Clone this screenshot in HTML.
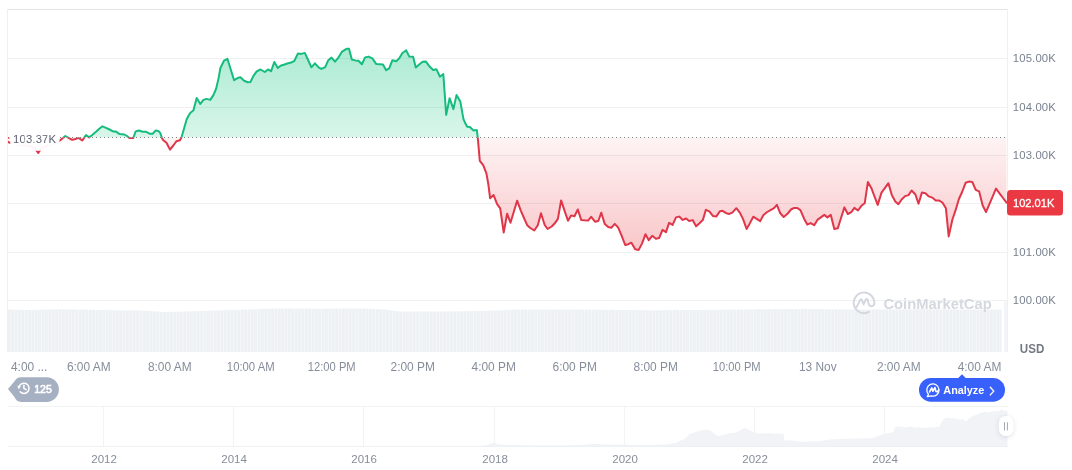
<!DOCTYPE html>
<html lang="en">
<head>
<meta charset="utf-8">
<title>Price chart</title>
<style>
html,body{margin:0;padding:0;background:#fff;}
body{width:1072px;height:470px;overflow:hidden;font-family:"Liberation Sans",sans-serif;}
svg{display:block;font-family:"Liberation Sans",sans-serif;}
</style>
</head>
<body>
<svg width="1072" height="470" viewBox="0 0 1072 470">
<defs>
<linearGradient id="gg" gradientUnits="userSpaceOnUse" x1="0" y1="9" x2="0" y2="137.5"><stop offset="0" stop-color="#16c784" stop-opacity="0.44"/><stop offset="1" stop-color="#16c784" stop-opacity="0.165"/></linearGradient>
<linearGradient id="rg" gradientUnits="userSpaceOnUse" x1="0" y1="137.5" x2="0" y2="352"><stop offset="0" stop-color="#ea3943" stop-opacity="0.06"/><stop offset="1" stop-color="#ea3943" stop-opacity="0.49"/></linearGradient>
<clipPath id="ca"><rect x="8" y="0" width="999" height="137.5"/></clipPath>
<clipPath id="cb"><rect x="8" y="137.5" width="999" height="214.5"/></clipPath>
<filter id="sh" x="-50%" y="-50%" width="200%" height="200%"><feDropShadow dx="0" dy="1" stdDeviation="2" flood-color="#58667e" flood-opacity="0.22"/></filter>
<pattern id="vp" patternUnits="userSpaceOnUse" x="8" y="0" width="3.375" height="60"><rect width="3.375" height="60" fill="#f5f7f9"/><rect width="2.5" height="60" fill="#eef1f4"/></pattern>
</defs>
<rect width="1072" height="470" fill="#fff"/>
<g id="grid">
<rect x="8" y="58" width="999" height="1" fill="#eef0f2"/>
<rect x="8" y="107" width="999" height="1" fill="#eef0f2"/>
<rect x="8" y="155" width="999" height="1" fill="#eef0f2"/>
<rect x="8" y="203" width="999" height="1" fill="#eef0f2"/>
<rect x="8" y="252" width="999" height="1" fill="#eef0f2"/>
<rect x="8" y="300" width="999" height="1" fill="#eef0f2"/>
</g>
<g id="volume">
<path d="M8,352 L8,309.5 L30,310 L60,309.3 L100,310 L140,310.5 L165,312 L200,311 L230,310 L260,309 L280,308.5 L320,308.7 L360,308.5 L385,309.5 L400,311.5 L440,311.5 L480,311 L510,310 L520,309.5 L600,309.7 L650,310.3 L700,310 L760,309.3 L800,309 L860,309.5 L920,309.2 L960,309.5 L1001.5,309.5 L1001.5,352 Z" fill="url(#vp)"/>
<rect x="1004" y="301.5" width="3" height="50.5" fill="#f3f5f8"/>
</g>
<g id="frame">
<rect x="8" y="9" width="1000" height="1" fill="#e3e5e8"/>
<rect x="7" y="9" width="1" height="343" fill="#eef0f2"/>
<rect x="1007" y="9" width="1" height="343" fill="#eef0f2"/>
</g>
<g id="watermark" opacity="0.97">
<path d="M868.8,312 A10.3,10.3 0 1 1 874.2,304.5 Q872.6,306.9 870.3,306.2 Q869,305.6 868.7,304 L867.6,299.7 Q866.8,297.7 865.7,299.7 L863.6,304.4 L862,300.1 Q861.2,298.3 860.2,300.1 L856.5,307.3" fill="none" stroke="#d3d7de" stroke-width="2" stroke-linecap="round" stroke-linejoin="round"/>
<text x="883.4" y="308.7" font-weight="700" font-size="15.5px" fill="#d3d7de" textLength="108.4" lengthAdjust="spacingAndGlyphs">CoinMarketCap</text>
</g>
<g id="series">
<path d="M7.6,141.6 L9.2,142.6 L11.1,143.0 L14.5,143.5 L17.9,144.0 L21.3,145.0 L24.6,145.2 L28.0,146.0 L31.4,146.8 L34.8,147.6 L38.2,153.0 L41.6,147.6 L44.9,146.8 L48.3,145.5 L51.6,144.0 L55.0,142.5 L58.4,141.5 L60.3,140.2 L65.3,136.0 L68.5,137.8 L72.2,139.9 L75.5,139.0 L78.5,137.9 L82.3,140.5 L86.0,135.1 L89.2,137.4 L92.5,134.8 L96.0,131.8 L99.0,129.0 L102.4,126.3 L106.0,127.8 L109.5,129.5 L113.0,131.4 L115.6,131.4 L119.3,133.9 L124.4,134.5 L127.0,136.0 L129.4,138.1 L133.2,138.1 L135.7,131.4 L138.8,130.5 L142.6,131.7 L145.8,131.7 L149.5,133.7 L152.7,133.7 L155.8,130.4 L158.3,130.9 L160.2,132.9 L162.1,138.3 L163.3,140.2 L166.5,142.7 L170.0,149.6 L173.3,145.5 L176.5,141.2 L180.0,140.2 L181.6,137.1 L183.9,129.0 L186.6,119.5 L188.5,115.7 L190.4,112.7 L193.4,110.5 L196.7,97.9 L200.3,103.9 L203.4,99.9 L206.5,98.9 L210.3,99.9 L213.4,95.1 L216.2,88.5 L218.7,77.6 L220.3,68.3 L224.0,60.7 L227.4,58.8 L234.1,80.2 L238.5,77.7 L240.4,77.3 L244.1,80.8 L247.9,82.3 L250.4,82.1 L253.5,75.8 L256.7,71.4 L260.5,69.5 L264.8,72.0 L268.0,69.5 L271.1,71.2 L274.3,62.0 L277.8,67.9 L280.6,65.8 L284.5,64.5 L288.1,63.2 L291.2,62.6 L294.4,60.8 L298.0,53.4 L301.3,53.9 L304.8,52.9 L308.1,60.0 L311.4,67.3 L314.9,63.3 L318.9,67.7 L321.4,68.9 L325.2,67.1 L328.3,60.2 L331.5,57.6 L335.0,61.7 L338.4,57.6 L342.1,51.6 L346.5,48.8 L349.0,48.8 L351.8,59.5 L355.3,60.4 L358.5,60.8 L361.9,64.2 L365.1,57.4 L368.5,56.6 L372.3,58.3 L376.1,63.9 L379.5,64.2 L383.0,64.5 L386.1,70.2 L389.2,68.3 L392.4,60.2 L396.2,61.2 L399.3,58.3 L402.4,53.0 L406.2,50.4 L409.3,56.6 L413.1,56.7 L415.8,67.5 L419.2,64.5 L422.6,61.7 L425.7,61.4 L430.1,67.1 L433.2,69.9 L436.4,69.2 L439.9,76.7 L443.3,74.0 L446.2,114.9 L449.6,98.2 L453.4,109.1 L456.5,95.1 L460.3,101.4 L463.4,118.9 L465.3,123.3 L467.2,126.7 L469.9,127.0 L473.3,130.4 L476.8,130.1 L477.8,137.8 L479.8,160.8 L483.2,165.2 L486.4,173.4 L488.3,184.0 L490.1,198.2 L493.6,195.1 L497.0,203.9 L500.2,208.3 L503.7,232.5 L507.1,213.7 L510.5,222.7 L513.8,211.7 L517.1,200.7 L520.9,210.8 L524.0,218.0 L527.2,225.2 L530.3,228.0 L534.3,230.5 L537.8,225.2 L541.0,213.3 L544.7,225.0 L547.6,229.0 L551.7,226.5 L554.8,223.3 L557.9,218.9 L561.1,200.4 L564.5,210.6 L568.0,220.8 L571.1,215.4 L574.5,216.2 L577.8,209.5 L581.2,219.9 L584.6,220.3 L588.1,220.6 L591.2,216.8 L595.0,221.7 L598.3,221.0 L601.3,212.7 L604.8,224.1 L608.2,227.0 L611.3,227.7 L614.8,223.9 L618.2,227.7 L621.4,235.2 L625.2,245.0 L628.3,244.2 L631.4,242.7 L635.2,249.3 L638.7,249.9 L642.1,243.4 L645.5,234.2 L648.8,240.2 L652.2,235.8 L655.9,238.7 L659.1,238.1 L662.5,229.9 L666.0,232.1 L669.1,222.9 L672.6,224.9 L676.0,217.4 L679.2,216.6 L682.7,219.9 L686.1,218.5 L689.2,221.0 L692.7,220.1 L696.1,226.2 L699.5,223.2 L702.8,220.1 L705.9,209.8 L709.3,211.3 L713.1,216.1 L716.2,216.6 L720.0,211.2 L722.5,210.8 L726.3,213.2 L729.4,213.9 L732.6,212.4 L736.3,208.2 L739.8,212.6 L743.0,218.9 L746.6,229.0 L749.5,223.9 L753.3,216.7 L756.7,218.9 L760.2,221.1 L763.3,215.2 L767.1,212.0 L770.5,210.1 L774.0,208.2 L776.9,204.8 L780.3,213.3 L783.7,217.0 L787.2,214.1 L791.0,209.5 L794.1,207.9 L797.3,208.0 L800.4,210.1 L804.2,218.9 L807.3,224.6 L810.5,223.1 L814.2,225.2 L817.4,219.9 L820.8,217.4 L824.3,214.9 L827.4,217.4 L830.8,214.9 L834.3,229.0 L837.8,228.3 L841.0,218.0 L844.4,207.4 L847.8,214.0 L851.3,212.1 L854.4,207.9 L858.0,210.5 L861.4,205.8 L864.7,203.3 L867.9,181.9 L871.4,188.2 L874.5,196.5 L877.7,204.9 L881.5,192.6 L885.0,187.9 L888.4,183.2 L891.8,195.1 L895.3,201.4 L898.4,204.2 L901.6,199.5 L905.1,196.1 L908.5,195.1 L911.6,190.5 L915.4,194.5 L918.5,203.7 L921.9,192.6 L925.4,193.2 L928.8,196.4 L932.3,197.6 L935.7,200.4 L939.2,200.6 L942.4,202.5 L945.9,208.3 L948.7,236.4 L952.4,219.5 L955.6,210.2 L958.9,199.0 L962.1,192.0 L965.6,182.8 L969.0,181.6 L972.3,182.0 L975.7,189.8 L979.1,191.3 L982.6,205.2 L986.0,212.1 L989.3,204.3 L992.7,196.4 L996.0,188.6 L999.5,193.3 L1003.0,198.0 L1006.5,202.6 L1006.5,137.5 L7.6,137.5 Z" fill="url(#gg)" clip-path="url(#ca)"/>
<path d="M7.6,141.6 L9.2,142.6 L11.1,143.0 L14.5,143.5 L17.9,144.0 L21.3,145.0 L24.6,145.2 L28.0,146.0 L31.4,146.8 L34.8,147.6 L38.2,153.0 L41.6,147.6 L44.9,146.8 L48.3,145.5 L51.6,144.0 L55.0,142.5 L58.4,141.5 L60.3,140.2 L65.3,136.0 L68.5,137.8 L72.2,139.9 L75.5,139.0 L78.5,137.9 L82.3,140.5 L86.0,135.1 L89.2,137.4 L92.5,134.8 L96.0,131.8 L99.0,129.0 L102.4,126.3 L106.0,127.8 L109.5,129.5 L113.0,131.4 L115.6,131.4 L119.3,133.9 L124.4,134.5 L127.0,136.0 L129.4,138.1 L133.2,138.1 L135.7,131.4 L138.8,130.5 L142.6,131.7 L145.8,131.7 L149.5,133.7 L152.7,133.7 L155.8,130.4 L158.3,130.9 L160.2,132.9 L162.1,138.3 L163.3,140.2 L166.5,142.7 L170.0,149.6 L173.3,145.5 L176.5,141.2 L180.0,140.2 L181.6,137.1 L183.9,129.0 L186.6,119.5 L188.5,115.7 L190.4,112.7 L193.4,110.5 L196.7,97.9 L200.3,103.9 L203.4,99.9 L206.5,98.9 L210.3,99.9 L213.4,95.1 L216.2,88.5 L218.7,77.6 L220.3,68.3 L224.0,60.7 L227.4,58.8 L234.1,80.2 L238.5,77.7 L240.4,77.3 L244.1,80.8 L247.9,82.3 L250.4,82.1 L253.5,75.8 L256.7,71.4 L260.5,69.5 L264.8,72.0 L268.0,69.5 L271.1,71.2 L274.3,62.0 L277.8,67.9 L280.6,65.8 L284.5,64.5 L288.1,63.2 L291.2,62.6 L294.4,60.8 L298.0,53.4 L301.3,53.9 L304.8,52.9 L308.1,60.0 L311.4,67.3 L314.9,63.3 L318.9,67.7 L321.4,68.9 L325.2,67.1 L328.3,60.2 L331.5,57.6 L335.0,61.7 L338.4,57.6 L342.1,51.6 L346.5,48.8 L349.0,48.8 L351.8,59.5 L355.3,60.4 L358.5,60.8 L361.9,64.2 L365.1,57.4 L368.5,56.6 L372.3,58.3 L376.1,63.9 L379.5,64.2 L383.0,64.5 L386.1,70.2 L389.2,68.3 L392.4,60.2 L396.2,61.2 L399.3,58.3 L402.4,53.0 L406.2,50.4 L409.3,56.6 L413.1,56.7 L415.8,67.5 L419.2,64.5 L422.6,61.7 L425.7,61.4 L430.1,67.1 L433.2,69.9 L436.4,69.2 L439.9,76.7 L443.3,74.0 L446.2,114.9 L449.6,98.2 L453.4,109.1 L456.5,95.1 L460.3,101.4 L463.4,118.9 L465.3,123.3 L467.2,126.7 L469.9,127.0 L473.3,130.4 L476.8,130.1 L477.8,137.8 L479.8,160.8 L483.2,165.2 L486.4,173.4 L488.3,184.0 L490.1,198.2 L493.6,195.1 L497.0,203.9 L500.2,208.3 L503.7,232.5 L507.1,213.7 L510.5,222.7 L513.8,211.7 L517.1,200.7 L520.9,210.8 L524.0,218.0 L527.2,225.2 L530.3,228.0 L534.3,230.5 L537.8,225.2 L541.0,213.3 L544.7,225.0 L547.6,229.0 L551.7,226.5 L554.8,223.3 L557.9,218.9 L561.1,200.4 L564.5,210.6 L568.0,220.8 L571.1,215.4 L574.5,216.2 L577.8,209.5 L581.2,219.9 L584.6,220.3 L588.1,220.6 L591.2,216.8 L595.0,221.7 L598.3,221.0 L601.3,212.7 L604.8,224.1 L608.2,227.0 L611.3,227.7 L614.8,223.9 L618.2,227.7 L621.4,235.2 L625.2,245.0 L628.3,244.2 L631.4,242.7 L635.2,249.3 L638.7,249.9 L642.1,243.4 L645.5,234.2 L648.8,240.2 L652.2,235.8 L655.9,238.7 L659.1,238.1 L662.5,229.9 L666.0,232.1 L669.1,222.9 L672.6,224.9 L676.0,217.4 L679.2,216.6 L682.7,219.9 L686.1,218.5 L689.2,221.0 L692.7,220.1 L696.1,226.2 L699.5,223.2 L702.8,220.1 L705.9,209.8 L709.3,211.3 L713.1,216.1 L716.2,216.6 L720.0,211.2 L722.5,210.8 L726.3,213.2 L729.4,213.9 L732.6,212.4 L736.3,208.2 L739.8,212.6 L743.0,218.9 L746.6,229.0 L749.5,223.9 L753.3,216.7 L756.7,218.9 L760.2,221.1 L763.3,215.2 L767.1,212.0 L770.5,210.1 L774.0,208.2 L776.9,204.8 L780.3,213.3 L783.7,217.0 L787.2,214.1 L791.0,209.5 L794.1,207.9 L797.3,208.0 L800.4,210.1 L804.2,218.9 L807.3,224.6 L810.5,223.1 L814.2,225.2 L817.4,219.9 L820.8,217.4 L824.3,214.9 L827.4,217.4 L830.8,214.9 L834.3,229.0 L837.8,228.3 L841.0,218.0 L844.4,207.4 L847.8,214.0 L851.3,212.1 L854.4,207.9 L858.0,210.5 L861.4,205.8 L864.7,203.3 L867.9,181.9 L871.4,188.2 L874.5,196.5 L877.7,204.9 L881.5,192.6 L885.0,187.9 L888.4,183.2 L891.8,195.1 L895.3,201.4 L898.4,204.2 L901.6,199.5 L905.1,196.1 L908.5,195.1 L911.6,190.5 L915.4,194.5 L918.5,203.7 L921.9,192.6 L925.4,193.2 L928.8,196.4 L932.3,197.6 L935.7,200.4 L939.2,200.6 L942.4,202.5 L945.9,208.3 L948.7,236.4 L952.4,219.5 L955.6,210.2 L958.9,199.0 L962.1,192.0 L965.6,182.8 L969.0,181.6 L972.3,182.0 L975.7,189.8 L979.1,191.3 L982.6,205.2 L986.0,212.1 L989.3,204.3 L992.7,196.4 L996.0,188.6 L999.5,193.3 L1003.0,198.0 L1006.5,202.6 L1006.5,137.5 L7.6,137.5 Z" fill="url(#rg)" clip-path="url(#cb)"/>
<line x1="8" y1="137.5" x2="1007" y2="137.5" stroke="#7d8087" stroke-width="1" stroke-dasharray="1 3"/>
<path d="M7.6,141.6 L9.2,142.6 L11.1,143.0 L14.5,143.5 L17.9,144.0 L21.3,145.0 L24.6,145.2 L28.0,146.0 L31.4,146.8 L34.8,147.6 L38.2,153.0 L41.6,147.6 L44.9,146.8 L48.3,145.5 L51.6,144.0 L55.0,142.5 L58.4,141.5 L60.3,140.2 L65.3,136.0 L68.5,137.8 L72.2,139.9 L75.5,139.0 L78.5,137.9 L82.3,140.5 L86.0,135.1 L89.2,137.4 L92.5,134.8 L96.0,131.8 L99.0,129.0 L102.4,126.3 L106.0,127.8 L109.5,129.5 L113.0,131.4 L115.6,131.4 L119.3,133.9 L124.4,134.5 L127.0,136.0 L129.4,138.1 L133.2,138.1 L135.7,131.4 L138.8,130.5 L142.6,131.7 L145.8,131.7 L149.5,133.7 L152.7,133.7 L155.8,130.4 L158.3,130.9 L160.2,132.9 L162.1,138.3 L163.3,140.2 L166.5,142.7 L170.0,149.6 L173.3,145.5 L176.5,141.2 L180.0,140.2 L181.6,137.1 L183.9,129.0 L186.6,119.5 L188.5,115.7 L190.4,112.7 L193.4,110.5 L196.7,97.9 L200.3,103.9 L203.4,99.9 L206.5,98.9 L210.3,99.9 L213.4,95.1 L216.2,88.5 L218.7,77.6 L220.3,68.3 L224.0,60.7 L227.4,58.8 L234.1,80.2 L238.5,77.7 L240.4,77.3 L244.1,80.8 L247.9,82.3 L250.4,82.1 L253.5,75.8 L256.7,71.4 L260.5,69.5 L264.8,72.0 L268.0,69.5 L271.1,71.2 L274.3,62.0 L277.8,67.9 L280.6,65.8 L284.5,64.5 L288.1,63.2 L291.2,62.6 L294.4,60.8 L298.0,53.4 L301.3,53.9 L304.8,52.9 L308.1,60.0 L311.4,67.3 L314.9,63.3 L318.9,67.7 L321.4,68.9 L325.2,67.1 L328.3,60.2 L331.5,57.6 L335.0,61.7 L338.4,57.6 L342.1,51.6 L346.5,48.8 L349.0,48.8 L351.8,59.5 L355.3,60.4 L358.5,60.8 L361.9,64.2 L365.1,57.4 L368.5,56.6 L372.3,58.3 L376.1,63.9 L379.5,64.2 L383.0,64.5 L386.1,70.2 L389.2,68.3 L392.4,60.2 L396.2,61.2 L399.3,58.3 L402.4,53.0 L406.2,50.4 L409.3,56.6 L413.1,56.7 L415.8,67.5 L419.2,64.5 L422.6,61.7 L425.7,61.4 L430.1,67.1 L433.2,69.9 L436.4,69.2 L439.9,76.7 L443.3,74.0 L446.2,114.9 L449.6,98.2 L453.4,109.1 L456.5,95.1 L460.3,101.4 L463.4,118.9 L465.3,123.3 L467.2,126.7 L469.9,127.0 L473.3,130.4 L476.8,130.1 L477.8,137.8 L479.8,160.8 L483.2,165.2 L486.4,173.4 L488.3,184.0 L490.1,198.2 L493.6,195.1 L497.0,203.9 L500.2,208.3 L503.7,232.5 L507.1,213.7 L510.5,222.7 L513.8,211.7 L517.1,200.7 L520.9,210.8 L524.0,218.0 L527.2,225.2 L530.3,228.0 L534.3,230.5 L537.8,225.2 L541.0,213.3 L544.7,225.0 L547.6,229.0 L551.7,226.5 L554.8,223.3 L557.9,218.9 L561.1,200.4 L564.5,210.6 L568.0,220.8 L571.1,215.4 L574.5,216.2 L577.8,209.5 L581.2,219.9 L584.6,220.3 L588.1,220.6 L591.2,216.8 L595.0,221.7 L598.3,221.0 L601.3,212.7 L604.8,224.1 L608.2,227.0 L611.3,227.7 L614.8,223.9 L618.2,227.7 L621.4,235.2 L625.2,245.0 L628.3,244.2 L631.4,242.7 L635.2,249.3 L638.7,249.9 L642.1,243.4 L645.5,234.2 L648.8,240.2 L652.2,235.8 L655.9,238.7 L659.1,238.1 L662.5,229.9 L666.0,232.1 L669.1,222.9 L672.6,224.9 L676.0,217.4 L679.2,216.6 L682.7,219.9 L686.1,218.5 L689.2,221.0 L692.7,220.1 L696.1,226.2 L699.5,223.2 L702.8,220.1 L705.9,209.8 L709.3,211.3 L713.1,216.1 L716.2,216.6 L720.0,211.2 L722.5,210.8 L726.3,213.2 L729.4,213.9 L732.6,212.4 L736.3,208.2 L739.8,212.6 L743.0,218.9 L746.6,229.0 L749.5,223.9 L753.3,216.7 L756.7,218.9 L760.2,221.1 L763.3,215.2 L767.1,212.0 L770.5,210.1 L774.0,208.2 L776.9,204.8 L780.3,213.3 L783.7,217.0 L787.2,214.1 L791.0,209.5 L794.1,207.9 L797.3,208.0 L800.4,210.1 L804.2,218.9 L807.3,224.6 L810.5,223.1 L814.2,225.2 L817.4,219.9 L820.8,217.4 L824.3,214.9 L827.4,217.4 L830.8,214.9 L834.3,229.0 L837.8,228.3 L841.0,218.0 L844.4,207.4 L847.8,214.0 L851.3,212.1 L854.4,207.9 L858.0,210.5 L861.4,205.8 L864.7,203.3 L867.9,181.9 L871.4,188.2 L874.5,196.5 L877.7,204.9 L881.5,192.6 L885.0,187.9 L888.4,183.2 L891.8,195.1 L895.3,201.4 L898.4,204.2 L901.6,199.5 L905.1,196.1 L908.5,195.1 L911.6,190.5 L915.4,194.5 L918.5,203.7 L921.9,192.6 L925.4,193.2 L928.8,196.4 L932.3,197.6 L935.7,200.4 L939.2,200.6 L942.4,202.5 L945.9,208.3 L948.7,236.4 L952.4,219.5 L955.6,210.2 L958.9,199.0 L962.1,192.0 L965.6,182.8 L969.0,181.6 L972.3,182.0 L975.7,189.8 L979.1,191.3 L982.6,205.2 L986.0,212.1 L989.3,204.3 L992.7,196.4 L996.0,188.6 L999.5,193.3 L1003.0,198.0 L1006.5,202.6" fill="none" stroke="#15bc7d" stroke-width="2" stroke-linejoin="round" stroke-linecap="round" clip-path="url(#ca)"/>
<path d="M7.6,141.6 L9.2,142.6 L11.1,143.0 L14.5,143.5 L17.9,144.0 L21.3,145.0 L24.6,145.2 L28.0,146.0 L31.4,146.8 L34.8,147.6 L38.2,153.0 L41.6,147.6 L44.9,146.8 L48.3,145.5 L51.6,144.0 L55.0,142.5 L58.4,141.5 L60.3,140.2 L65.3,136.0 L68.5,137.8 L72.2,139.9 L75.5,139.0 L78.5,137.9 L82.3,140.5 L86.0,135.1 L89.2,137.4 L92.5,134.8 L96.0,131.8 L99.0,129.0 L102.4,126.3 L106.0,127.8 L109.5,129.5 L113.0,131.4 L115.6,131.4 L119.3,133.9 L124.4,134.5 L127.0,136.0 L129.4,138.1 L133.2,138.1 L135.7,131.4 L138.8,130.5 L142.6,131.7 L145.8,131.7 L149.5,133.7 L152.7,133.7 L155.8,130.4 L158.3,130.9 L160.2,132.9 L162.1,138.3 L163.3,140.2 L166.5,142.7 L170.0,149.6 L173.3,145.5 L176.5,141.2 L180.0,140.2 L181.6,137.1 L183.9,129.0 L186.6,119.5 L188.5,115.7 L190.4,112.7 L193.4,110.5 L196.7,97.9 L200.3,103.9 L203.4,99.9 L206.5,98.9 L210.3,99.9 L213.4,95.1 L216.2,88.5 L218.7,77.6 L220.3,68.3 L224.0,60.7 L227.4,58.8 L234.1,80.2 L238.5,77.7 L240.4,77.3 L244.1,80.8 L247.9,82.3 L250.4,82.1 L253.5,75.8 L256.7,71.4 L260.5,69.5 L264.8,72.0 L268.0,69.5 L271.1,71.2 L274.3,62.0 L277.8,67.9 L280.6,65.8 L284.5,64.5 L288.1,63.2 L291.2,62.6 L294.4,60.8 L298.0,53.4 L301.3,53.9 L304.8,52.9 L308.1,60.0 L311.4,67.3 L314.9,63.3 L318.9,67.7 L321.4,68.9 L325.2,67.1 L328.3,60.2 L331.5,57.6 L335.0,61.7 L338.4,57.6 L342.1,51.6 L346.5,48.8 L349.0,48.8 L351.8,59.5 L355.3,60.4 L358.5,60.8 L361.9,64.2 L365.1,57.4 L368.5,56.6 L372.3,58.3 L376.1,63.9 L379.5,64.2 L383.0,64.5 L386.1,70.2 L389.2,68.3 L392.4,60.2 L396.2,61.2 L399.3,58.3 L402.4,53.0 L406.2,50.4 L409.3,56.6 L413.1,56.7 L415.8,67.5 L419.2,64.5 L422.6,61.7 L425.7,61.4 L430.1,67.1 L433.2,69.9 L436.4,69.2 L439.9,76.7 L443.3,74.0 L446.2,114.9 L449.6,98.2 L453.4,109.1 L456.5,95.1 L460.3,101.4 L463.4,118.9 L465.3,123.3 L467.2,126.7 L469.9,127.0 L473.3,130.4 L476.8,130.1 L477.8,137.8 L479.8,160.8 L483.2,165.2 L486.4,173.4 L488.3,184.0 L490.1,198.2 L493.6,195.1 L497.0,203.9 L500.2,208.3 L503.7,232.5 L507.1,213.7 L510.5,222.7 L513.8,211.7 L517.1,200.7 L520.9,210.8 L524.0,218.0 L527.2,225.2 L530.3,228.0 L534.3,230.5 L537.8,225.2 L541.0,213.3 L544.7,225.0 L547.6,229.0 L551.7,226.5 L554.8,223.3 L557.9,218.9 L561.1,200.4 L564.5,210.6 L568.0,220.8 L571.1,215.4 L574.5,216.2 L577.8,209.5 L581.2,219.9 L584.6,220.3 L588.1,220.6 L591.2,216.8 L595.0,221.7 L598.3,221.0 L601.3,212.7 L604.8,224.1 L608.2,227.0 L611.3,227.7 L614.8,223.9 L618.2,227.7 L621.4,235.2 L625.2,245.0 L628.3,244.2 L631.4,242.7 L635.2,249.3 L638.7,249.9 L642.1,243.4 L645.5,234.2 L648.8,240.2 L652.2,235.8 L655.9,238.7 L659.1,238.1 L662.5,229.9 L666.0,232.1 L669.1,222.9 L672.6,224.9 L676.0,217.4 L679.2,216.6 L682.7,219.9 L686.1,218.5 L689.2,221.0 L692.7,220.1 L696.1,226.2 L699.5,223.2 L702.8,220.1 L705.9,209.8 L709.3,211.3 L713.1,216.1 L716.2,216.6 L720.0,211.2 L722.5,210.8 L726.3,213.2 L729.4,213.9 L732.6,212.4 L736.3,208.2 L739.8,212.6 L743.0,218.9 L746.6,229.0 L749.5,223.9 L753.3,216.7 L756.7,218.9 L760.2,221.1 L763.3,215.2 L767.1,212.0 L770.5,210.1 L774.0,208.2 L776.9,204.8 L780.3,213.3 L783.7,217.0 L787.2,214.1 L791.0,209.5 L794.1,207.9 L797.3,208.0 L800.4,210.1 L804.2,218.9 L807.3,224.6 L810.5,223.1 L814.2,225.2 L817.4,219.9 L820.8,217.4 L824.3,214.9 L827.4,217.4 L830.8,214.9 L834.3,229.0 L837.8,228.3 L841.0,218.0 L844.4,207.4 L847.8,214.0 L851.3,212.1 L854.4,207.9 L858.0,210.5 L861.4,205.8 L864.7,203.3 L867.9,181.9 L871.4,188.2 L874.5,196.5 L877.7,204.9 L881.5,192.6 L885.0,187.9 L888.4,183.2 L891.8,195.1 L895.3,201.4 L898.4,204.2 L901.6,199.5 L905.1,196.1 L908.5,195.1 L911.6,190.5 L915.4,194.5 L918.5,203.7 L921.9,192.6 L925.4,193.2 L928.8,196.4 L932.3,197.6 L935.7,200.4 L939.2,200.6 L942.4,202.5 L945.9,208.3 L948.7,236.4 L952.4,219.5 L955.6,210.2 L958.9,199.0 L962.1,192.0 L965.6,182.8 L969.0,181.6 L972.3,182.0 L975.7,189.8 L979.1,191.3 L982.6,205.2 L986.0,212.1 L989.3,204.3 L992.7,196.4 L996.0,188.6 L999.5,193.3 L1003.0,198.0 L1006.5,202.6" fill="none" stroke="#e0364a" stroke-width="2" stroke-linejoin="round" stroke-linecap="round" clip-path="url(#cb)"/>
</g>
<g id="open-label">
<circle cx="8.7" cy="138.1" r="0.8" fill="#ea3943"/>
<rect x="10.2" y="128.5" width="49.3" height="22.2" rx="6" fill="#fff" opacity="0.95"/>
<text x="13.1" y="143" font-size="11.4px" fill="#5d6472" stroke="#fff" stroke-width="4" stroke-linejoin="round" paint-order="stroke" textLength="43" lengthAdjust="spacing">103.37K</text>
</g>
<g id="yaxis" font-size="11.3px" fill="#79828f">
<text x="1012.8" y="62.2" textLength="43" lengthAdjust="spacing">105.00K</text>
<text x="1012.8" y="110.6" textLength="43" lengthAdjust="spacing">104.00K</text>
<text x="1012.8" y="159.0" textLength="43" lengthAdjust="spacing">103.00K</text>
<text x="1012.8" y="255.8" textLength="43" lengthAdjust="spacing">101.00K</text>
<text x="1012.8" y="304.2" textLength="43" lengthAdjust="spacing">100.00K</text>
<text x="1019.8" y="353.1" font-weight="700" font-size="12.4px" fill="#737983" textLength="24.5" lengthAdjust="spacingAndGlyphs">USD</text>
</g>
<g id="price-badge">
<rect x="1007" y="190.1" width="56" height="25.5" rx="3.5" fill="#ea3943"/>
<text x="1013" y="206.8" font-size="11.3px" fill="#fff" stroke="#fff" stroke-width="0.3" textLength="41.3" lengthAdjust="spacingAndGlyphs">102.01K</text>
</g>
<g id="xaxis" font-size="11.9px" fill="#868d9a">
<text x="11" y="371">4:00 ...</text>
<g text-anchor="middle">
<text x="88.75" y="371">6:00 AM</text>
<text x="169.75" y="371">8:00 AM</text>
<text x="250.75" y="371" textLength="47.8" lengthAdjust="spacingAndGlyphs">10:00 AM</text>
<text x="331.75" y="371" textLength="47.8" lengthAdjust="spacingAndGlyphs">12:00 PM</text>
<text x="412.75" y="371">2:00 PM</text>
<text x="493.75" y="371">4:00 PM</text>
<text x="574.75" y="371">6:00 PM</text>
<text x="655.75" y="371">8:00 PM</text>
<text x="736.75" y="371" textLength="47.8" lengthAdjust="spacingAndGlyphs">10:00 PM</text>
<text x="817.75" y="371">13 Nov</text>
<text x="898.75" y="371">2:00 AM</text>
<text x="979.5" y="371">4:00 AM</text>
</g></g>
<g id="history-pill">
<path d="M8,388.9 L14.3,381.5 Q16.6,377.2 21,377.2 L46.6,377.2 A12.35,12.35 0 0 1 46.6,401.9 L21,401.9 Q16.6,401.9 14.3,396.7 Z" fill="#a6b0c3"/>
<g fill="none" stroke="#fff" stroke-width="1.55" stroke-linecap="round" stroke-linejoin="round">
<path d="M18.9,387.6 A5.1,5.1 0 1 1 20.2,391.8"/>
<path d="M23.9,385.3 V388.3 L26.1,389.7"/>
</g>
<path d="M17.3,385.8 L20.9,386.3 L18.6,389.3 Z" fill="#fff"/>
<text x="34.2" y="393" font-size="11px" fill="#fff" stroke="#fff" stroke-width="0.6" textLength="17.6" lengthAdjust="spacingAndGlyphs">125</text>
</g>
<g id="analyze-pill">
<path d="M957.8,378.4 L962,374.3 L966.2,378.4 Z" fill="#3861fb"/>
<rect x="919" y="378" width="86" height="23.8" rx="11.9" fill="#3861fb"/>
<g fill="none" stroke="#fff" stroke-width="1.3" stroke-linecap="round" stroke-linejoin="round">
<path d="M928.5,394.2 A6.1,6.1 0 1 1 931.4,395.9 L927.3,396.6 Z"/>
<path d="M929.6,391.9 L931.8,387.9 L932.9,391.2 L934.9,387.6 L935.9,391.3 Q936.5,392.2 937.6,391.3 L938.6,390.2" stroke-width="1.7"/>
</g>
<text x="943.3" y="393.9" font-weight="700" font-size="11px" fill="#fff" textLength="41" lengthAdjust="spacingAndGlyphs">Analyze</text>
<path d="M990.3,387.3 L993.8,391.1 L990.3,394.9" fill="none" stroke="#fff" stroke-width="1.4" stroke-linecap="round" stroke-linejoin="round"/>
</g>
<g id="navigator">
<rect x="103.0" y="407" width="1" height="40" fill="#f1f3f5"/>
<rect x="233.0" y="407" width="1" height="40" fill="#f1f3f5"/>
<rect x="363.0" y="407" width="1" height="40" fill="#f1f3f5"/>
<rect x="494.0" y="407" width="1" height="40" fill="#f1f3f5"/>
<rect x="624.0" y="407" width="1" height="40" fill="#f1f3f5"/>
<rect x="754.0" y="407" width="1" height="40" fill="#f1f3f5"/>
<rect x="884.0" y="407" width="1" height="40" fill="#f1f3f5"/>
<path d="M8.0,446.0 L480.0,446.0 L488.0,445.0 L493.6,442.5 L499.0,444.6 L520.0,445.2 L560.0,445.5 L580.0,445.0 L590.0,444.3 L597.0,444.0 L605.0,444.5 L625.0,444.8 L650.0,445.0 L668.0,444.3 L676.0,443.0 L680.0,440.8 L685.0,439.0 L689.4,434.0 L693.0,433.0 L697.0,431.5 L701.0,430.8 L704.0,429.6 L707.0,429.9 L710.0,430.2 L713.0,432.5 L716.0,435.0 L718.7,436.0 L722.0,435.5 L726.0,434.2 L730.0,433.2 L734.0,433.0 L738.0,431.8 L741.0,429.8 L745.6,427.7 L748.0,429.3 L751.0,431.0 L754.0,432.0 L758.0,433.6 L762.0,433.2 L766.0,433.6 L770.0,433.0 L774.0,433.8 L778.0,433.5 L783.5,434.0 L784.5,440.3 L792.0,440.6 L797.0,441.2 L804.0,441.8 L812.0,441.5 L820.0,441.0 L830.0,439.6 L845.0,438.8 L860.0,438.6 L872.0,438.3 L876.0,436.8 L880.3,434.9 L886.0,433.8 L893.5,432.0 L895.0,426.8 L900.0,426.4 L905.0,427.4 L910.0,426.6 L915.0,427.8 L920.0,427.2 L925.0,428.0 L930.0,427.3 L935.0,427.8 L939.5,426.5 L942.0,421.0 L944.5,418.5 L947.4,417.6 L951.0,418.6 L955.0,418.2 L959.0,419.6 L963.0,419.4 L966.0,421.6 L968.5,419.0 L972.0,416.5 L976.0,415.1 L980.0,413.2 L984.4,412.1 L988.0,412.6 L992.0,411.5 L996.0,411.2 L999.5,410.9 L1001.5,409.6 L1004.0,410.8 L1007.5,410.5 L1007.5,447.0 L8.0,447.0 Z" fill="#f1f3f6"/>
<rect x="8" y="406" width="1000" height="1" fill="#f1f3f5"/>
<rect x="8" y="446" width="1000" height="1" fill="#eef1f4"/>
<g font-size="11.5px" fill="#868d9a" text-anchor="middle">
<text x="104.1" y="463.3">2012</text>
<text x="234.1" y="463.3">2014</text>
<text x="364.1" y="463.3">2016</text>
<text x="495.1" y="463.3">2018</text>
<text x="625.1" y="463.3">2020</text>
<text x="755.1" y="463.3">2022</text>
<text x="885.1" y="463.3">2024</text>
</g>
<rect x="998.9" y="416" width="14.4" height="20" rx="6.5" fill="#fff" filter="url(#sh)"/>
<rect x="1004.1" y="422.2" width="0.9" height="8.2" fill="#9a9fa8"/>
<rect x="1006.9" y="422.2" width="0.9" height="8.2" fill="#9a9fa8"/>
</g>
</svg>
</body>
</html>
